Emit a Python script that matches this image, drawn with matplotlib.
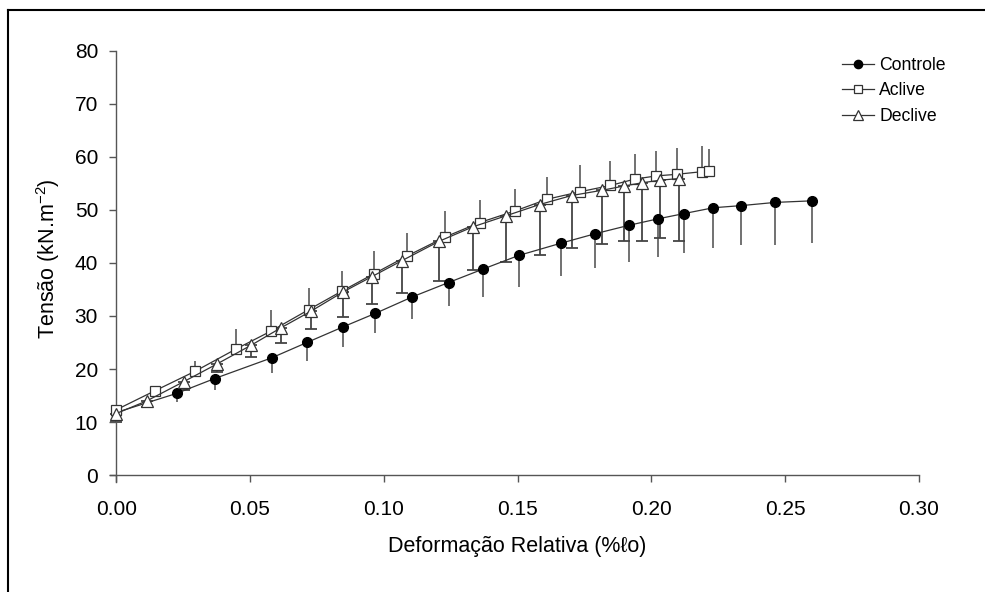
import matplotlib
matplotlib.use("Agg")
import matplotlib.pyplot as plt
from matplotlib.lines import Line2D

plt.rcParams['font.family'] = ['Liberation Sans', 'DejaVu Sans']
plt.rcParams['mathtext.fontset'] = 'custom'
plt.rcParams['mathtext.rm'] = 'Liberation Sans'
plt.rcParams['mathtext.default'] = 'regular'

# Controle
ctrl_x = [0, 0.0226, 0.0368, 0.0581, 0.0713, 0.0846, 0.0969, 0.1107, 0.1242, 0.1369,
          0.1504, 0.1661, 0.1790, 0.1917, 0.2024, 0.2122, 0.2232, 0.2336, 0.2462, 0.2599]
ctrl_y = [11.8, 15.4, 18.2, 22.1, 25.0, 27.9, 30.5, 33.6, 36.3, 38.8,
          41.4, 43.7, 45.5, 47.1, 48.3, 49.3, 50.4, 50.8, 51.4, 51.7]
ctrl_err = [0, 1.6, 2.2, 2.8, 3.5, 3.7, 3.7, 4.1, 4.5, 5.3,
            6.0, 6.1, 6.5, 7.0, 7.1, 7.5, 7.6, 7.5, 8.0, 8.0]

# Aclive
acl_x = [0, 0.0145, 0.0296, 0.0449, 0.0577, 0.0720, 0.0844, 0.0965, 0.1087, 0.1230,
         0.1358, 0.1491, 0.1610, 0.1732, 0.1847, 0.1938, 0.2019, 0.2095, 0.2190, 0.2216]
acl_y = [12.3, 15.9, 19.6, 23.8, 27.1, 31.2, 34.7, 38.0, 41.3, 44.9,
         47.6, 49.8, 52.0, 53.4, 54.6, 55.8, 56.4, 56.7, 57.2, 57.3]
acl_err = [0.5, 0.8, 1.9, 3.7, 4.1, 4.1, 3.8, 4.2, 4.3, 4.8,
           4.3, 4.1, 4.2, 5.0, 4.6, 4.7, 4.7, 4.9, 4.8, 4.1]

# Declive
dec_x = [0, 0.0115, 0.0252, 0.0375, 0.0505, 0.0617, 0.0728, 0.0847, 0.0955, 0.1067,
         0.1208, 0.1333, 0.1458, 0.1582, 0.1702, 0.1817, 0.1898, 0.1965, 0.2034, 0.2103]
dec_y = [11.6, 14.0, 17.6, 20.9, 24.5, 27.8, 30.9, 34.5, 37.4, 40.4,
         44.1, 46.8, 48.9, 51.0, 52.7, 53.7, 54.5, 55.1, 55.6, 55.9]
dec_err = [1.5, 1.1, 1.6, 1.4, 2.2, 2.9, 3.4, 4.7, 5.1, 6.0,
           7.6, 8.1, 8.7, 9.5, 9.9, 10.2, 10.4, 10.9, 11.0, 11.8]

x_ticks = [0, 0.05, 0.10, 0.15, 0.20, 0.25, 0.30]
x_ticklabels = ['0.00', '0.05', '0.10', '0.15', '0.20', '0.25', '0.30']
y_ticks = [0, 10, 20, 30, 40, 50, 60, 70, 80]

fig = plt.figure(figsize=(9.85, 5.92), dpi=100)
ax = fig.add_axes([110 / 985, 1 - 482 / 592, (919 - 110) / 985, (482 - 50.7) / 592])

line_col = '#333333'

ax.errorbar(ctrl_x, ctrl_y, yerr=[ctrl_err, [0] * len(ctrl_err)], fmt='none',
            ecolor='#666666', elinewidth=1.3, capsize=0, zorder=1)
ax.errorbar(acl_x, acl_y, yerr=[[0] * len(acl_err), acl_err], fmt='none',
            ecolor='#666666', elinewidth=1.3, capsize=0, zorder=1)
ax.errorbar(dec_x, dec_y, yerr=[dec_err, [0] * len(dec_err)], fmt='none',
            ecolor='#444444', elinewidth=1.3, capsize=4, capthick=1.3, zorder=1)

ax.plot(ctrl_x, ctrl_y, '-o', color=line_col, lw=0.9, ms=7, mfc='black', mec='black',
        label='Controle', zorder=3)
ax.plot(acl_x, acl_y, '-s', color=line_col, lw=0.9, ms=7, mfc='white', mec='#333333',
        mew=0.9, label='Aclive', zorder=3)
ax.plot(dec_x, dec_y, '-^', color=line_col, lw=0.9, ms=8, mfc='white', mec='#333333',
        mew=0.9, label='Declive', zorder=3)

ax.set_xlim(-0.0023, 0.30)
ax.set_ylim(-1.3, 80)
ax.spines['left'].set_position(('data', 0))
ax.spines['bottom'].set_position(('data', 0))
ax.spines['top'].set_visible(False)
ax.spines['right'].set_visible(False)
for s in ['left', 'bottom']:
    ax.spines[s].set_color('#555555')
    ax.spines[s].set_linewidth(1.0)

ax.set_xticks(x_ticks)
ax.set_xticklabels(x_ticklabels)
ax.set_yticks(y_ticks)
ax.tick_params(direction='out', length=5, width=1, color='#555555', labelsize=15)
ax.tick_params(axis='x', pad=13)
ax.tick_params(axis='y', pad=8)

ax.set_xlabel('Deformação Relativa (%ℓo)', fontsize=15.5)
ax.set_ylabel(r'Tensão (kN.m$^{-2}$)', fontsize=15.5)
ax.xaxis.set_label_coords(0.503, -0.125)
ax.yaxis.set_label_coords(-0.059, 0.517)

ax.legend(loc='upper left', bbox_to_anchor=(842 / 985, 1 - 57 / 592),
          bbox_transform=fig.transFigure, frameon=False, fontsize=12.7,
          handlelength=1.8, handletextpad=0.3, labelspacing=0.48, markerscale=0.85,
          borderaxespad=0, borderpad=0)

# figure frame (left and top edges visible)
fig.add_artist(Line2D([8 / 985, 8 / 985], [0, 1 - 10 / 592], color='black', lw=1.5))
fig.add_artist(Line2D([8 / 985, 1], [1 - 10 / 592, 1 - 10 / 592], color='black', lw=1.5))

fig.savefig('out.png', dpi=100)
